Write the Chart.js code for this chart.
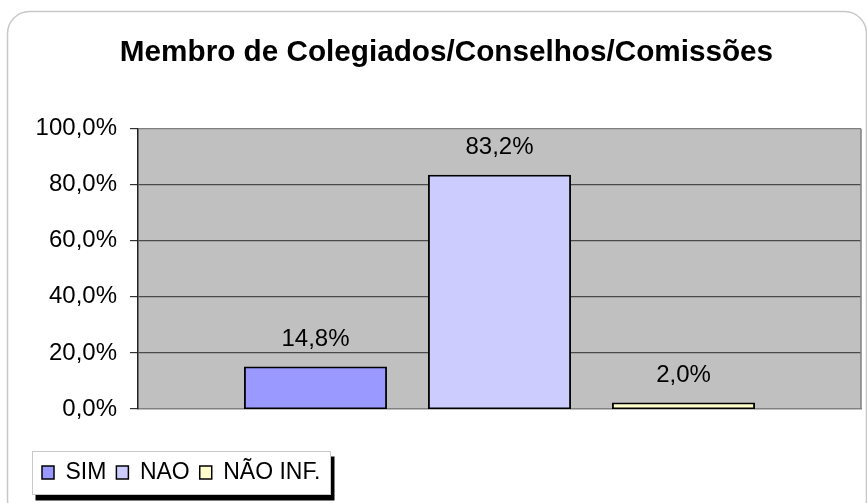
<!DOCTYPE html>
<html>
<head>
<meta charset="utf-8">
<script src="https://cdn.jsdelivr.net/npm/chart.js@4.4.0/dist/chart.umd.min.js"></script>
<style>
    html, body { margin: 0; padding: 0; background: #fff; }
    #wrap { width: 867px; height: 503px; position: relative; }
</style>
</head>
<body>
<div id="wrap"><canvas id="myChart" width="867" height="503"></canvas></div>
<script>
// Data
const chartTitle = 'Membro de Colegiados/Conselhos/Comissões';
const categories = [''];
const seriesNames = ['SIM', 'NAO', 'NÃO INF.'];
const seriesValues = [14.8, 83.2, 2.0];
const seriesColors = ['#9999FF', '#CCCCFF', '#FFFFCC'];
const yTicks = [0, 20, 40, 60, 80, 100];

const FONT = '"Liberation Sans", Arial, sans-serif';

function pct(v) {
    return v.toFixed(1).replace('.', ',') + '%';
}

// Frame, plot background and legend box (drawn before everything else)
const backgroundPlugin = {
    id: 'excelBackground',
    beforeDraw(chart) {
        const ctx = chart.ctx;
        const area = chart.chartArea;
        ctx.save();

        // outer rounded frame
        ctx.strokeStyle = '#C8C8C8';
        ctx.lineWidth = 1.5;
        ctx.beginPath();
        ctx.roundRect(7.5, 11.5, 859, 510, 22);
        ctx.stroke();

        // grey plot area
        ctx.fillStyle = '#C0C0C0';
        ctx.fillRect(area.left, area.top, area.right - area.left, area.bottom - area.top);

        // legend box with black shadow
        const lg = chart.legend;
        if (lg && lg.lineWidths) {
            const pad = lg.options.labels.padding;
            const x = Math.round(lg.left) + 0.5;
            const y = Math.round(lg.top) + 0.5;
            const w = Math.round(lg.lineWidths[0] + pad);
            const h = Math.round(lg.height);
            ctx.fillStyle = '#000';
            ctx.fillRect(x + 3, y + 5, w + 1, h + 1);
            ctx.fillStyle = '#fff';
            ctx.fillRect(x, y, w, h);
            ctx.strokeStyle = '#C8C8C8';
            ctx.lineWidth = 1;
            ctx.strokeRect(x, y, w, h);
        }
        ctx.restore();
    },
    afterDatasetsDraw(chart) {
        const ctx = chart.ctx;
        const area = chart.chartArea;
        ctx.save();
        // right edge of plot area
        ctx.strokeStyle = '#808080';
        ctx.lineWidth = 1.5;
        ctx.beginPath();
        ctx.moveTo(area.right, area.top);
        ctx.lineTo(area.right, area.bottom);
        ctx.stroke();

        // value labels above bars
        ctx.fillStyle = '#000';
        ctx.font = '24px ' + FONT;
        ctx.textAlign = 'center';
        ctx.textBaseline = 'middle';
        chart.data.datasets.forEach((ds, i) => {
            const meta = chart.getDatasetMeta(i);
            meta.data.forEach((bar, j) => {
                ctx.fillText(pct(ds.data[j]), bar.x, bar.y - 28);
            });
        });
        ctx.restore();
    }
};

const datasets = seriesNames.map((name, i) => ({
    label: name,
    data: [seriesValues[i]],
    backgroundColor: seriesColors[i],
    borderColor: '#000',
    borderWidth: 1.8,
    borderSkipped: false,
    inflateAmount: 1,
    categoryPercentage: 0.7635,
    barPercentage: 0.766,
}));

var ctx = document.getElementById('myChart').getContext('2d');
var myChart = new Chart(ctx, {
    type: 'bar',
    data: {
        labels: categories,
        datasets: datasets
    },
    plugins: [backgroundPlugin],
    options: {
        responsive: false,
        animation: false,
        layout: {
            padding: { left: 32, right: 6, top: 0, bottom: 9 }
        },
        scales: {
            x: {
                grid: { display: false, drawTicks: false },
                ticks: { display: false },
                border: { display: true, color: '#808080', width: 1.5 },
                afterFit(axis) { axis.height = 42; }
            },
            y: {
                min: 0,
                max: 100,
                afterBuildTicks(axis) {
                    axis.ticks = yTicks.map(v => ({ value: v }));
                },
                ticks: {
                    color: '#000',
                    padding: 13,
                    font: { family: FONT, size: 24 },
                    callback: v => pct(v)
                },
                grid: {
                    color: c => (c.tick && c.tick.value === 100) ? '#808080' : (c.tick && c.tick.value === 0 ? 'rgba(0,0,0,0)' : '#4A4A4A'),
                    tickColor: '#333',
                    tickLength: 8,
                    lineWidth: 1.2
                },
                border: { display: true, color: '#222', width: 1.5 },
                afterFit(axis) { axis.width = 106; }
            }
        },
        plugins: {
            title: {
                display: true,
                text: chartTitle,
                color: '#000',
                font: { family: FONT, size: 29.7, weight: 'bold' },
                padding: { top: 35, bottom: 58 }
            },
            legend: {
                display: true,
                position: 'bottom',
                align: 'start',
                labels: {
                    color: '#000',
                    font: { family: FONT, size: 23 },
                    boxWidth: 12,
                    boxHeight: 13,
                    padding: 10,
                    generateLabels(chart) {
                        return chart.data.datasets.map((ds, i) => ({
                            text: ds.label,
                            fillStyle: ds.backgroundColor,
                            strokeStyle: '#000',
                            lineWidth: 1.5,
                            datasetIndex: i
                        }));
                    }
                }
            },
            tooltip: { enabled: false }
        }
    }
});
</script>
</body>
</html>
